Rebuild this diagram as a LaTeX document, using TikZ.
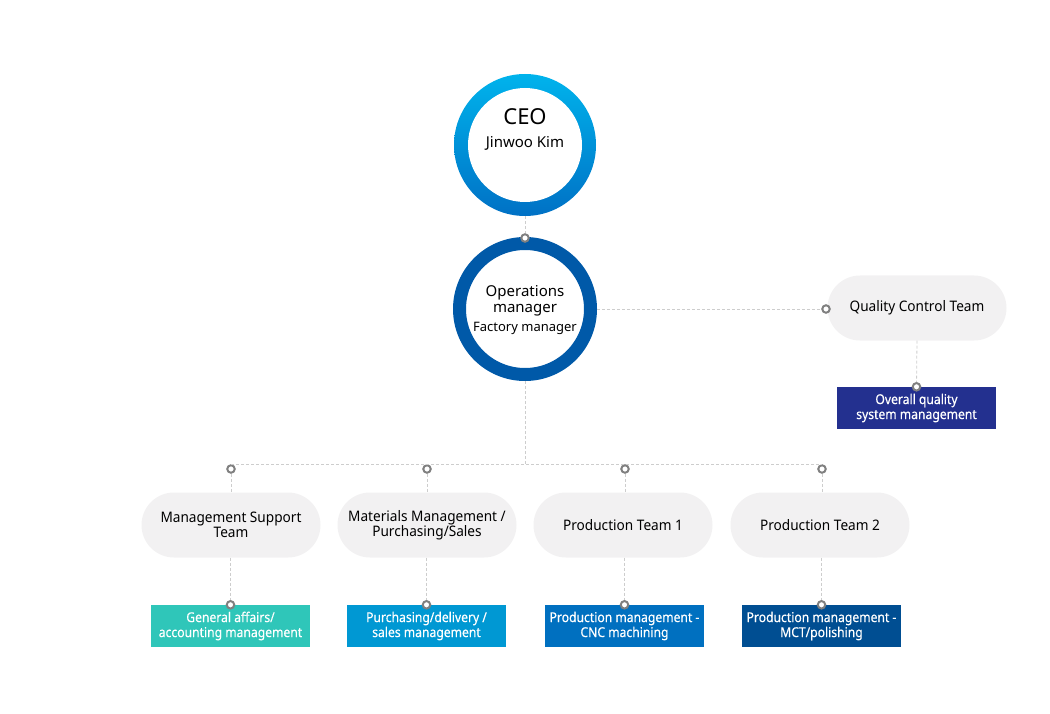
\documentclass[tikz,border=0pt]{standalone}
\usepackage{fontspec}
\setmainfont{Noto Sans}
\newfontfamily\boxfont[FakeStretch=0.9, FakeBold=0.3]{Noto Sans}
\newfontfamily\pillfont[FakeStretch=0.94]{Noto Sans}
\usetikzlibrary{positioning}

\definecolor{ceotop}{HTML}{00B3EC}
\definecolor{ceobot}{HTML}{0071C5}
\definecolor{opsblue}{HTML}{0059A8}
\definecolor{pillgray}{HTML}{F2F1F2}
\definecolor{linkgray}{HTML}{CDCDCD}
\definecolor{dotgray}{HTML}{808080}
\definecolor{qblue}{HTML}{23308F}
\definecolor{teal}{HTML}{2FC6B9}
\definecolor{skyblue}{HTML}{0098D3}
\definecolor{midblue}{HTML}{0070C0}
\definecolor{navyblue}{HTML}{004E92}

\newcommand{\bigsize}{\fontsize{22}{24}\selectfont}
\newcommand{\midsize}{\fontsize{15}{16}\selectfont}
\newcommand{\smallsize}{\fontsize{13}{15}\selectfont}

\tikzset{
  link/.style={draw=linkgray, line width=0.8pt, dash pattern=on 3pt off 2pt},
  dot/.style={circle, draw=dotgray, fill=white, line width=2pt, minimum size=7.5pt, inner sep=0pt},
  pill/.style={rectangle, rounded corners=32.5pt, fill=pillgray, minimum width=179pt, minimum height=65pt,
    align=center, font=\pillfont\fontsize{14.5}{15}\selectfont},
  taskbox/.style={rectangle, minimum width=159pt, minimum height=42pt, inner xsep=0pt, align=center, text=white,
    font=\boxfont\fontsize{13.5}{15}\selectfont}
}

\begin{document}
\begin{tikzpicture}[x=1pt, y=-1pt]
  \useasboundingbox (0,0) rectangle (1050,714);

  % --- CEO ---
  \node[circle, minimum size=142pt, inner sep=0pt, top color=ceotop, bottom color=ceobot] (ceo) at (525,145) {};
  \node[circle, fill=white, minimum size=114pt, inner sep=0pt] (ceoin) at (ceo) {};
  \node[font=\bigsize] (ceot) at (525,117) {CEO};
  \node[font=\midsize] (ceon) at (525,143) {Jinwoo Kim};

  % --- operations manager ---
  \node[circle, draw=opsblue, line width=13pt, fill=white, minimum size=131pt, inner sep=0pt] (ops) at (525,309) {};
  \node[font=\midsize, align=center] (opst) at (525,301) {Operations\\manager};
  \node[font=\smallsize] (opsf) at (525,328) {Factory manager};
  \node[dot] (d0) at (525,238) {};
  \draw[link] (ceo.south) -- (d0);

  % --- quality control ---
  \node[pill] (qc) at (917,308) {Quality Control Team};
  \node[taskbox, fill=qblue] (qbox) at (916.5,408) {Overall quality\\system management};
  \node[dot] (dq) at (826,309) {};
  \node[dot] (dqb) at (qbox.north) {};
  \draw[link] (ops.east) -- (dq);
  \draw[link] (qc.south) -- (dqb);

  % --- teams ---
  \node[pill] (t1) at (231,525) {Management Support\\Team};
  \node[pill] (t2) at (427,525) {Materials Management /\\Purchasing/Sales};
  \node[pill] (t3) at (623,525) {Production Team 1};
  \node[pill] (t4) at (820,525) {Production Team 2};

  \node[dot] (d1) at (231,469) {};
  \node[dot] (d2) at (427,469) {};
  \node[dot] (d3) at (625,469) {};
  \node[dot] (d4) at (822,469) {};
  \draw[link] (ops.south) -- (ops.south |- d1.north);
  \draw[link] (d1.north) -- (d4.north);
  \foreach \i in {1,...,4}
    \draw[link] (d\i) -- (d\i |- t\i.north);

  % --- tasks ---
  \node[taskbox, fill=teal] (b1) at (230.5,626) {General affairs/\\accounting management};
  \node[taskbox, fill=skyblue] (b2) at (426.5,626) {Purchasing/delivery /\\sales management};
  \node[taskbox, fill=midblue] (b3) at (624.5,626) {Production management -\\CNC machining};
  \node[taskbox, fill=navyblue] (b4) at (821.5,626) {Production management -\\MCT/polishing};

  \foreach \i in {1,...,4} {
    \node[dot] (e\i) at (b\i.north) {};
    \draw[link] (e\i |- t\i.south) -- (e\i);
  }

\end{tikzpicture}
\end{document}
